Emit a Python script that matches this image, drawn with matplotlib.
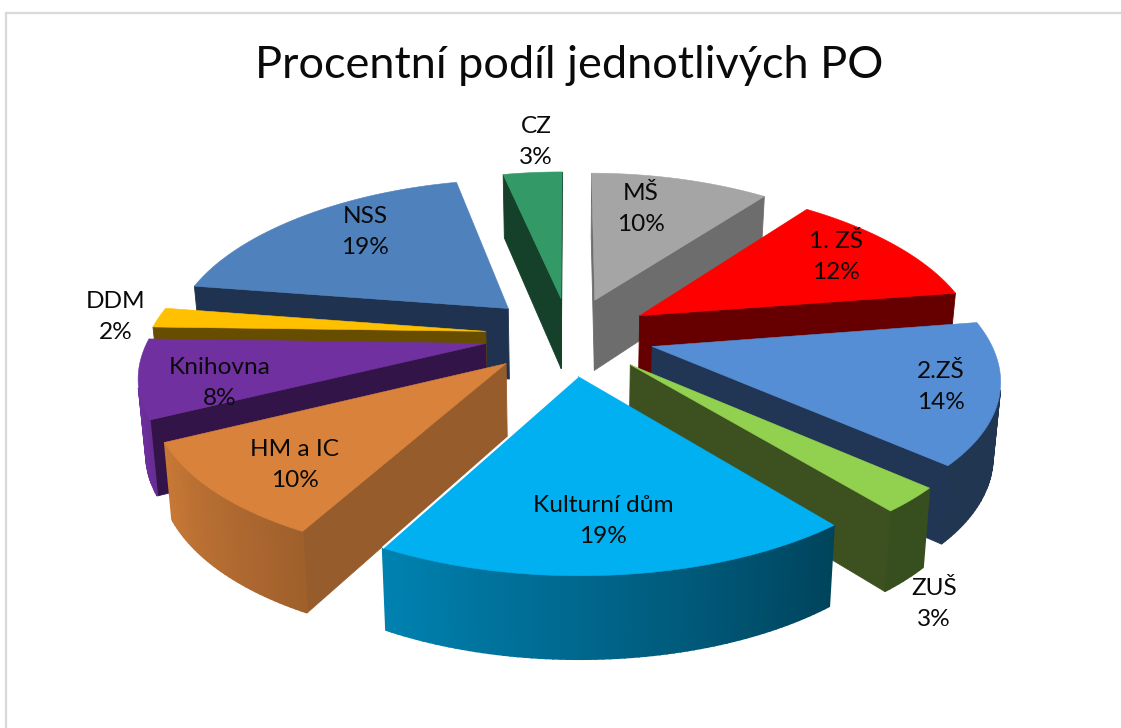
import numpy as np
import matplotlib
matplotlib.use("Agg")
import matplotlib.pyplot as plt

# ---- data ----
categories = ["MŠ", "1. ZŠ", "2.ZŠ", "ZUŠ", "Kulturní dům", "HM a IC", "Knihovna", "DDM", "NSS", "CZ"]
percent_labels = [10, 12, 14, 3, 19, 10, 8, 2, 19, 3]
# unrounded shares
shares = [10.0, 12.0, 14.4, 2.6, 19.0, 10.0, 8.0, 2.0, 18.7, 3.3]
title = "Procentní podíl jednotlivých PO"

# ---- style ----
explode = [0.25, 0.25, 0.25, 0.25, 0.25, 0.25, 0.25, 0.25, 0.26, 0.25]
top_colors = ["#a5a5a5", "#ff0000", "#558ed5", "#92d050", "#00b0f0",
              "#d8823b", "#7030a0", "#ffc000", "#4f81bd", "#339966"]
side_colors = ["#6d6d6d", "#660000", "#213654", "#3d5020", "#004660",
               "#975c2c", "#331448", "#664d00", "#1f3350", "#15402a"]
label_pos = [(641, 209), (836, 257), (941, 387), (934, 604), (603, 521),
             (295, 465), (220, 383), (116, 317), (365, 232), (536, 142)]

# ---- projection of the exploded 3D pie ----
CX, CY = 569.5, 336.0
AX, AY = 339.0, 156.0
PERSP = 0.15
DEPTH, DEPTH_P = 72.0, 0.11
CONVERGE = 0.018
SAG = 3.5


def project(X, Y, bottom=False):
    w = 1 + PERSP * Y
    sx = CX + AX * X / w
    sy = CY - AY * Y / w + SAG * X ** 2
    if bottom:
        sx = CX + (sx - CX) * (1 - CONVERGE)
        sy = sy + DEPTH / (1 + DEPTH_P * Y)
    return sx, sy


def arc_shade(theta_deg):
    return float(np.clip(0.38 + (theta_deg - 140) * 0.0052, 0.38, 1.0))


fig = plt.figure(figsize=(11.21, 7.28), dpi=100)
ax = fig.add_axes([0, 0, 1, 1])
ax.set_xlim(0, 1121)
ax.set_ylim(728, 0)
ax.axis("off")

# chart frame: only top and left edges appear in the reference crop
ax.plot([1120, 6, 6], [13, 13, 728], color="#d9d9d9", lw=1.6, solid_joinstyle="miter")

fractions = np.array(shares, dtype=float) / sum(shares)
edges = np.concatenate([[0], np.cumsum(fractions)]) * 360.0
mids = (edges[:-1] + edges[1:]) / 2
order = np.argsort(-np.cos(np.radians(mids)))


def rgb(hexcol):
    return np.array(matplotlib.colors.to_rgb(hexcol))


for i in order:
    a0, a1 = edges[i], edges[i + 1]
    m = np.radians(mids[i])
    ox, oy = explode[i] * np.sin(m), explode[i] * np.cos(m)
    n = max(int(a1 - a0), 2)
    th = np.linspace(a0, a1, n + 1)
    Xs = np.concatenate([[ox], ox + np.sin(np.radians(th))])
    Ys = np.concatenate([[oy], oy + np.cos(np.radians(th))])
    tx, ty = project(Xs, Ys)
    bx, by = project(Xs, Ys, bottom=True)
    N = len(Xs)
    for j in range(N):
        k = (j + 1) % N
        qx = [tx[j], tx[k], bx[k], bx[j]]
        qy = [ty[j], ty[k], by[k], by[j]]
        area = sum(qx[q] * qy[(q + 1) % 4] - qx[(q + 1) % 4] * qy[q] for q in range(4))
        if area >= 0:
            continue
        if j == 0 or k == 0:
            col = side_colors[i]
            ax.fill(qx, qy, color=col, lw=0.6, zorder=2)
        else:
            col = tuple(rgb(top_colors[i]) * arc_shade((th[j - 1] + th[k - 1]) / 2))
            ax.fill(qx, qy, color=col, lw=1.2, zorder=2)
    ax.fill(tx, ty, color=top_colors[i], lw=0.4, zorder=2)
    if categories[i] == "Kulturní dům":
        ax.plot([tx[0], tx[-1]], [ty[0], ty[-1]], color="white", lw=1.6,
                solid_capstyle="butt", zorder=2)

for name, val, (lx, ly) in zip(categories, percent_labels, label_pos):
    ax.text(lx, ly, f"{name}\n{val}%", ha="center", va="center", fontsize=17.6,
            family="Lato", color="#0a0a0a", linespacing=1.58, zorder=5)

ax.text(569, 65, title, ha="center", va="center", fontsize=32.5, family="Lato", color="#0a0a0a")

fig.savefig("out.png", dpi=100, facecolor="white")
